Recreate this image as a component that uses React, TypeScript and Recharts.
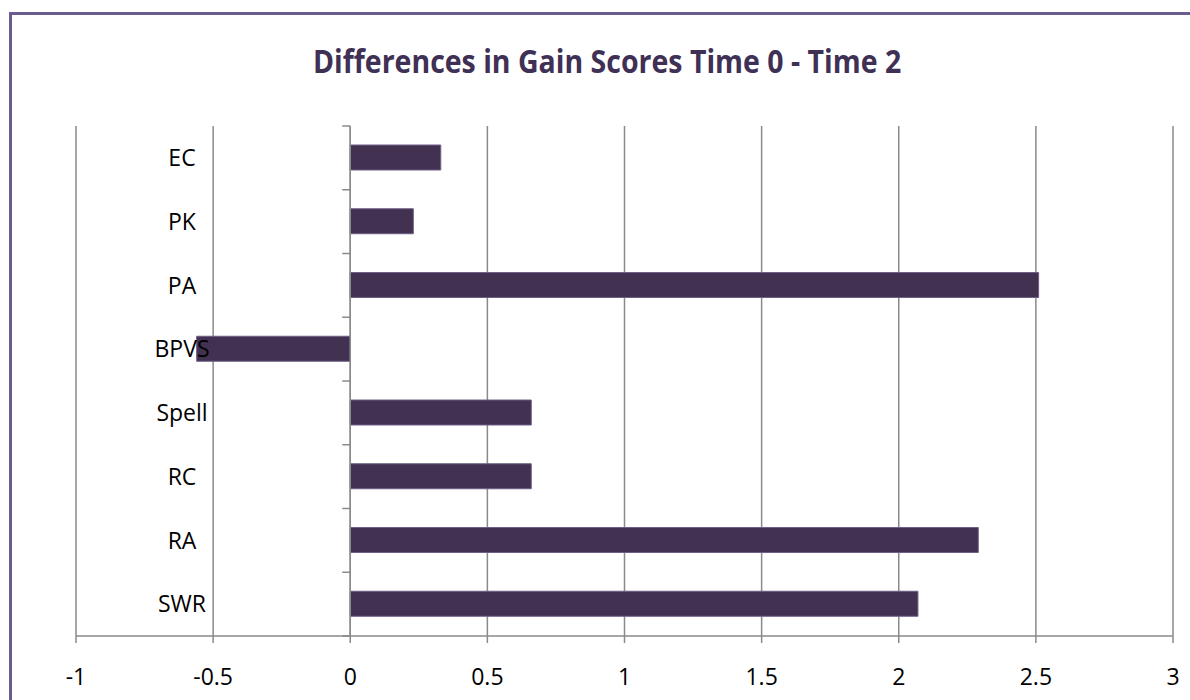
import { BarChart, Bar, XAxis, YAxis, CartesianGrid, ReferenceLine } from "recharts";

const categories = ["EC", "PK", "PA", "BPVS", "Spell", "RC", "RA", "SWR"];
const gains = [0.33, 0.23, 2.51, -0.56, 0.66, 0.66, 2.29, 2.07];
const xTicks = [-1, -0.5, 0, 0.5, 1, 1.5, 2, 2.5, 3];

const data = categories.map((name, i) => ({ name, gain: gains[i] }));

const GRID = "#8a8a8a";
const BAR = "#433152";
const FONT = "'Open Sans', 'DejaVu Sans', sans-serif";

// category labels sit centred in the left gutter, like the Excel original
const CatTick = (props: any) => {
  const { x, y, payload } = props;
  return (
    <text x={x + 106} y={y} dy="0.355em" textAnchor="middle" fontFamily={FONT} fontSize={23} fill="#000">
      {payload.value}
    </text>
  );
};

// axis line at zero, with tick marks on the category boundaries
const ZeroAxis = (props: any) => {
  const { x1, y1, y2 } = props;
  const n = categories.length;
  const step = (y2 - y1) / n;
  const marks = [];
  for (let i = 0; i <= n; i++) {
    const y = y1 + i * step;
    marks.push(<line key={i} x1={x1 - 8} x2={x1} y1={y} y2={y} stroke={GRID} strokeWidth={1.5} />);
  }
  return (
    <g>
      <line x1={x1} x2={x1} y1={y1} y2={y2} stroke={GRID} strokeWidth={1.5} />
      {marks}
    </g>
  );
};

export default function App() {
  return (
    <div style={{ position: "absolute", left: 0, top: 0, width: 1190, height: 700, overflow: "hidden", background: "#fff" }}>
      <div style={{ position: "absolute", left: 9, top: 12, width: 1200, height: 800, border: "3px solid #6b5b8e", boxSizing: "border-box" }} />
      <div style={{ position: "absolute", left: 10, width: 1192, top: 39, textAlign: "center", fontFamily: FONT, fontWeight: 700, fontSize: 32, color: "#3f3056", transform: "scaleX(0.89)", transformOrigin: "606px 0" }}>
        Differences in Gain Scores Time 0 - Time 2
      </div>
      <div style={{ position: "absolute", left: 0, top: 0 }}>
        <BarChart width={1190} height={700} data={data} layout="vertical" margin={{ top: 126, right: 17, bottom: 0, left: 0 }}>
          <CartesianGrid horizontal={false} stroke={GRID} strokeWidth={1.5} />
          <XAxis
            type="number"
            domain={[-1, 3]}
            ticks={xTicks}
            height={64}
            stroke={GRID}
            strokeWidth={1.5}
            tickSize={7}
            tickMargin={26}
            tick={{ fill: "#000", fontFamily: FONT, fontSize: 23 }}
          />
          <YAxis type="category" dataKey="name" width={76} axisLine={false} tickLine={false} tickSize={0} tickMargin={0} tick={<CatTick />} />
          <ReferenceLine x={0} shape={<ZeroAxis />} />
          <Bar dataKey="gain" fill={BAR} stroke="#6e5f86" strokeWidth={1} barSize={25} isAnimationActive={false} />
        </BarChart>
      </div>
    </div>
  );
}
